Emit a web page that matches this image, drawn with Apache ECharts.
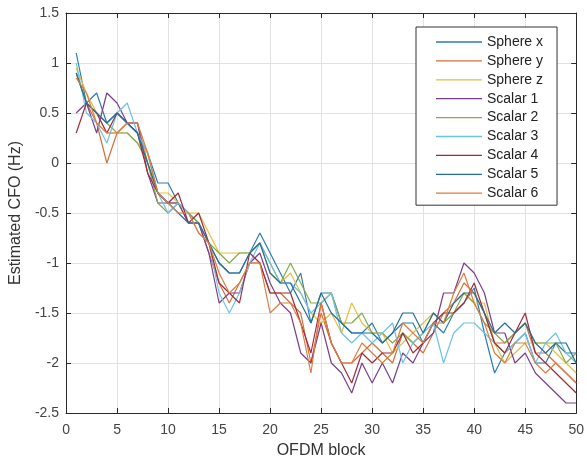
<!DOCTYPE html>
<html>
<head>
<meta charset="utf-8">
<script src="https://cdn.jsdelivr.net/npm/echarts@6/dist/echarts.min.js"></script>
<style>
  html, body { margin: 0; padding: 0; background: #fff; }
  #chart { width: 587px; height: 464px; }
</style>
</head>
<body>
<div id="chart"></div>
<script>
// OFDM block index
var blocks = [1,2,3,4,5,6,7,8,9,10,11,12,13,14,15,16,17,18,19,20,21,22,23,24,25,
              26,27,28,29,30,31,32,33,34,35,36,37,38,39,40,41,42,43,44,45,46,47,48,49,50];

var names = ['Sphere x','Sphere y','Sphere z','Scalar 1','Scalar 2','Scalar 3','Scalar 4','Scalar 5','Scalar 6'];

// estimated CFO (Hz) per block
var sphereX = [1.1,0.6,0.7,0.4,0.5,0.4,0.3,0.1,-0.2,-0.2,-0.4,-0.5,-0.6,-0.8,-1.0,-1.1,-1.1,-0.9,-0.7,-0.9,
               -1.1,-1.3,-1.1,-1.6,-1.3,-1.3,-1.6,-1.7,-1.7,-1.6,-1.8,-1.7,-1.6,-1.6,-1.8,-1.6,-1.7,-1.5,-1.4,-1.25,
               -1.7,-2.1,-1.9,-1.8,-1.7,-2.0,-2.0,-1.8,-1.9,-1.9];
var sphereY = [0.9,0.6,0.4,0.0,0.3,0.4,0.4,0.0,-0.3,-0.4,-0.4,-0.6,-0.6,-0.9,-1.2,-1.4,-1.2,-1.0,-1.0,-1.3,
               -1.3,-1.4,-1.5,-2.0,-1.5,-1.8,-2.0,-2.0,-1.9,-1.8,-1.9,-2.0,-1.7,-1.8,-1.9,-1.7,-1.5,-1.4,-1.2,-1.3,
               -1.5,-1.8,-1.8,-1.7,-1.6,-1.9,-1.9,-2.0,-2.1,-2.2];
var sphereZ = [0.95,0.7,0.5,0.3,0.3,0.3,0.2,0.1,-0.3,-0.3,-0.4,-0.5,-0.5,-0.7,-0.9,-0.9,-0.9,-0.9,-0.8,-1.1,
               -1.2,-1.1,-1.3,-1.5,-1.6,-1.5,-1.7,-1.4,-1.6,-1.7,-1.7,-1.9,-1.8,-1.7,-1.6,-1.5,-1.6,-1.4,-1.3,-1.4,
               -1.4,-1.8,-2.0,-1.9,-1.8,-1.8,-1.8,-1.9,-2.0,-2.1];
var scalar1 = [0.5,0.6,0.3,0.7,0.6,0.4,0.4,-0.1,-0.4,-0.4,-0.4,-0.6,-0.6,-0.9,-1.4,-1.3,-1.3,-1.0,-0.9,-1.2,
               -1.4,-1.5,-1.9,-2.0,-1.6,-2.0,-2.1,-2.3,-2.0,-2.2,-2.0,-2.2,-1.9,-2.0,-1.8,-1.7,-1.3,-1.3,-1.0,-1.1,
               -1.3,-1.7,-1.7,-2.0,-1.9,-2.1,-2.2,-2.3,-2.4,-2.4];
var scalar2 = [0.9,0.6,0.5,0.4,0.3,0.3,0.2,0.0,-0.4,-0.5,-0.4,-0.5,-0.6,-0.8,-0.9,-1.0,-0.9,-0.9,-0.8,-1.0,
               -1.2,-1.0,-1.2,-1.4,-1.4,-1.3,-1.6,-1.6,-1.5,-1.7,-1.7,-1.8,-1.7,-1.8,-1.7,-1.5,-1.6,-1.5,-1.3,-1.4,
               -1.6,-1.7,-1.8,-1.7,-1.6,-1.8,-1.8,-1.8,-2.0,-1.9];
var scalar3 = [1.0,0.5,0.4,0.2,0.5,0.6,0.3,0.1,-0.3,-0.5,-0.4,-0.5,-0.7,-0.8,-1.3,-1.5,-1.3,-1.0,-0.8,-1.0,
               -1.2,-1.2,-1.3,-1.5,-1.4,-1.3,-1.7,-1.8,-1.7,-1.8,-1.7,-1.6,-2.0,-1.8,-1.7,-1.6,-2.0,-1.7,-1.6,-1.6,
               -1.7,-1.8,-1.9,-1.8,-1.7,-2.0,-1.8,-1.7,-1.9,-2.0];
var scalar4 = [0.3,0.6,0.5,0.3,0.5,0.4,0.3,-0.1,-0.3,-0.4,-0.3,-0.6,-0.5,-0.8,-1.2,-1.3,-1.4,-0.9,-1.0,-1.3,
               -1.3,-1.3,-1.6,-1.9,-1.4,-1.8,-2.0,-2.2,-1.9,-2.0,-1.9,-1.9,-1.7,-1.9,-1.8,-1.6,-1.5,-1.5,-1.4,-1.2,
               -1.5,-1.8,-1.9,-1.7,-1.5,-1.9,-2.0,-2.1,-2.2,-2.3];
var scalar5 = [0.9,0.6,0.5,0.4,0.5,0.4,0.3,0.0,-0.3,-0.4,-0.5,-0.6,-0.6,-0.8,-1.0,-1.1,-1.1,-0.9,-0.8,-1.1,
               -1.2,-1.2,-1.4,-1.6,-1.3,-1.5,-1.6,-1.7,-1.7,-1.7,-1.8,-1.7,-1.5,-1.5,-1.7,-1.5,-1.6,-1.4,-1.3,-1.3,
               -1.5,-1.7,-1.6,-1.7,-1.6,-1.8,-1.9,-1.8,-1.8,-2.0];
var scalar6 = [0.85,0.7,0.4,0.3,0.3,0.4,0.4,0.1,-0.3,-0.4,-0.5,-0.5,-0.7,-0.8,-1.1,-1.3,-1.2,-1.0,-1.0,-1.5,
               -1.4,-1.4,-1.6,-2.1,-1.4,-1.8,-2.0,-2.0,-1.8,-1.9,-2.0,-1.9,-1.6,-1.7,-1.8,-1.6,-1.6,-1.3,-1.1,-1.4,
               -1.6,-1.9,-2.0,-1.8,-1.8,-2.0,-2.1,-2.0,-2.1,-2.2];

var values = [sphereX, sphereY, sphereZ, scalar1, scalar2, scalar3, scalar4, scalar5, scalar6];
var colors = ['#2b7db3','#d2703c','#e2bf3e','#7a3f8c','#86a94e','#6cc3e6','#a02b3e','#276f96','#dd7d3f'];

var font = 'Liberation Sans, Arial, sans-serif';
var boxColor = '#2a2a2a';

var series = names.map(function (n, i) {
    return {
        name: n,
        type: 'line',
        symbol: 'none',
        lineStyle: { width: 1.2, color: colors[i] },
        itemStyle: { color: colors[i] },
        data: blocks.map(function (b, k) { return [b, values[i][k]]; })
    };
});

var chart = echarts.init(document.getElementById('chart'));
chart.setOption({
    backgroundColor: '#fff',
    animation: false,
    color: colors,
    grid: { left: 66, right: 10, top: 13, bottom: 48 },
    legend: {
        data: names,
        orient: 'vertical',
        left: 416,
        top: 27,
        icon: 'path://M0,0H46V1.3H0Z',
        itemWidth: 46,
        itemHeight: 14,
        itemGap: 4.9,
        padding: [8, 14, 5, 20],
        borderColor: '#333',
        borderWidth: 1,
        backgroundColor: '#fff',
        selectedMode: false,
        textStyle: { fontFamily: font, fontSize: 14, color: '#222' }
    },
    xAxis: [{
        type: 'value',
        min: 0, max: 50, interval: 5,
        name: 'OFDM block',
        nameLocation: 'middle',
        nameGap: 30,
        nameTextStyle: { fontFamily: font, fontSize: 16, color: '#333' },
        axisLine: { onZero: false, lineStyle: { color: boxColor, width: 1 } },
        axisTick: { inside: true, length: 5, lineStyle: { color: boxColor } },
        axisLabel: { fontFamily: font, fontSize: 14, color: '#444', margin: 10 },
        splitLine: { show: true, lineStyle: { color: '#e2e2e2', width: 1 } }
    }, {
        type: 'value',
        position: 'top',
        min: 0, max: 50, interval: 5,
        axisLine: { onZero: false, lineStyle: { color: boxColor, width: 1 } },
        axisTick: { inside: true, length: 5, lineStyle: { color: boxColor } },
        axisLabel: { show: false },
        splitLine: { show: false }
    }],
    yAxis: [{
        type: 'value',
        min: -2.5, max: 1.5, interval: 0.5,
        name: 'Estimated CFO (Hz)',
        nameLocation: 'middle',
        nameGap: 39,
        nameTextStyle: { fontFamily: font, fontSize: 16, color: '#333' },
        axisLine: { show: true, onZero: false, lineStyle: { color: boxColor, width: 1 } },
        axisTick: { show: true, inside: true, length: 5, lineStyle: { color: boxColor } },
        axisLabel: { fontFamily: font, fontSize: 14, color: '#444', margin: 7 },
        splitLine: { show: true, lineStyle: { color: '#e2e2e2', width: 1 } }
    }, {
        type: 'value',
        position: 'right',
        min: -2.5, max: 1.5, interval: 0.5,
        axisLine: { show: true, onZero: false, lineStyle: { color: boxColor, width: 1 } },
        axisTick: { show: true, inside: true, length: 5, lineStyle: { color: boxColor } },
        axisLabel: { show: false },
        splitLine: { show: false }
    }],
    series: series
});
</script>
</body>
</html>
